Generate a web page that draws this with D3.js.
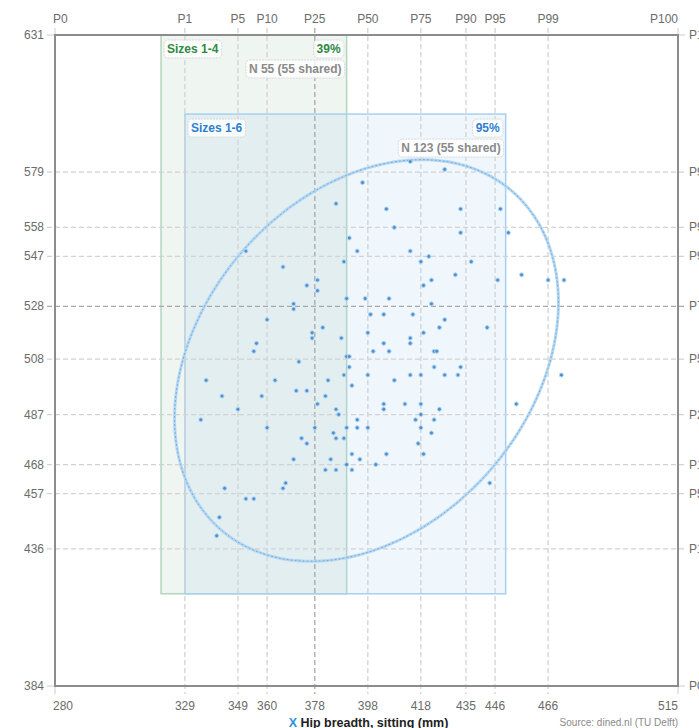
<!DOCTYPE html>
<html>
<head>
<meta charset="utf-8">
<title>Hip breadth, sitting</title>
<style>
  body { margin: 0; background: #fff; }
  svg { display: block; font-family: "Liberation Sans", Arial, sans-serif; }
</style>
</head>
<body>
<svg></svg>
<script src="https://cdn.jsdelivr.net/npm/d3@7"></script>
<script>
// percentile ticks (mm)
var xTicks = [280, 329, 349, 360, 378, 398, 418, 435, 446, 466, 515];
var yTicks = [384, 436, 457, 468, 487, 508, 528, 547, 558, 579, 631];
var pctNames = ["P0", "P1", "P5", "P10", "P25", "P50", "P75", "P90", "P95", "P99", "P100"];

// size groups
var groupNames = ["Sizes 1-4", "Sizes 1-6"];
var groupX0 = [320, 329];
var groupX1 = [390, 450];
var groupY0 = [419, 419];
var groupY1 = [631, 601];
var groupPct = ["39%", "95%"];
var groupN = [55, 123];
var groupShared = [55, 55];

// 95% ellipse
var ellCenter = [397.5, 507.5];
var ellAxes = [84.5, 62.5];
var ellAngle = 50;

// people: hip breadth (x) and second measure (y)
var px = [396, 386, 405, 408, 391, 394, 352, 366, 389, 375, 379, 379, 390, 397, 406, 427, 414, 433, 448, 433,
  451, 414, 421, 418, 437, 431, 456, 422, 419, 447, 466, 472, 370, 370, 399, 404, 360, 381, 377, 377,
  398, 388, 356, 404, 355, 400, 406, 390, 391, 372, 391, 389, 398, 337, 363, 383, 408, 392, 371, 375,
  343, 358, 382, 379, 404, 404, 386, 387, 349, 335, 394, 360, 378, 390, 394, 398, 385, 373, 375, 386,
  389, 392, 405, 370, 384, 395, 390, 401, 382, 386, 392, 422, 415, 427, 425, 443, 419, 414, 414, 423,
  424, 423, 433, 414, 418, 427, 432, 471, 412, 418, 425, 454, 418, 416, 423, 418, 422, 417, 419, 344,
  366, 367, 352, 355, 342, 341, 444];
var py = [575, 567, 565, 558, 554, 549, 549, 543, 545, 536, 538, 534, 531, 531, 531, 580, 583, 565, 565, 556,
  556, 549, 547, 545, 545, 540, 540, 538, 536, 538, 538, 538, 529, 527, 525, 525, 523, 520, 518, 516,
  518, 516, 514, 514, 511, 511, 511, 509, 509, 507, 505, 502, 502, 500, 500, 500, 500, 498, 496, 496,
  494, 494, 494, 491, 491, 489, 489, 487, 489, 485, 485, 482, 482, 482, 482, 482, 480, 478, 476, 478,
  478, 472, 472, 470, 470, 470, 468, 468, 466, 466, 466, 529, 525, 523, 520, 520, 518, 516, 514, 511,
  511, 505, 505, 502, 502, 502, 502, 502, 491, 491, 489, 491, 487, 485, 485, 482, 480, 476, 472, 459,
  459, 461, 455, 455, 448, 441, 461];

var width = 699, height = 728;
var pLeft = 55, pRight = 678, pTop = 35, pBottom = 686;

var svg = d3.select("svg")
    .attr("width", width)
    .attr("height", height);

var x = d3.scaleLinear().domain([280, 515]).range([pLeft, pRight]);
var y = d3.scaleLinear().domain([384, 631]).range([pBottom, pTop]);

svg.append("clipPath").attr("id", "clip")
  .append("rect").attr("x", pLeft).attr("y", pTop).attr("width", pRight - pLeft).attr("height", pBottom - pTop);

// size boxes
var boxFill = ["rgba(175,205,182,0.2)", "rgba(175,208,240,0.2)"];
var boxStroke = ["#b3d5bf", "#a7d0f0"];
var textCol = ["#2f8a45", "#2f7fcf"];
for (var i = 0; i < groupNames.length; i++) {
  svg.append("rect")
    .attr("clip-path", "url(#clip)")
    .attr("x", x(groupX0[i]))
    .attr("y", y(groupY1[i]))
    .attr("width", x(groupX1[i]) - x(groupX0[i]))
    .attr("height", y(groupY0[i]) - y(groupY1[i]))
    .style("fill", boxFill[i])
    .style("stroke", boxStroke[i])
    .style("stroke-width", 1.5);
}

// grid lines
var grid = svg.append("g");
grid.selectAll("line.vx").data(xTicks.slice(1, -1)).enter().append("line")
  .attr("x1", function(d) { return x(d); })
  .attr("x2", function(d) { return x(d); })
  .attr("y1", pTop - 7).attr("y2", pBottom + 8)
  .style("stroke", function(d) { return d == 378 ? "#a8a8a8" : "#d2d2d2"; })
  .style("stroke-width", 1.3)
  .style("stroke-dasharray", "5,3");
grid.selectAll("line.hy").data(yTicks.slice(1, -1)).enter().append("line")
  .attr("x1", pLeft - 8).attr("x2", pRight + 7)
  .attr("y1", function(d) { return y(d); })
  .attr("y2", function(d) { return y(d); })
  .style("stroke", function(d) { return d == 528 ? "#a8a8a8" : "#d2d2d2"; })
  .style("stroke-width", 1.3)
  .style("stroke-dasharray", "5,3");

// ticks at the frame corners
grid.selectAll("line.cx").data([280, 515]).enter().append("line")
  .attr("x1", function(d) { return x(d); }).attr("x2", function(d) { return x(d); })
  .attr("y1", pTop - 7).attr("y2", pBottom + 8)
  .style("stroke", "#ccc").style("stroke-width", 1);
grid.selectAll("line.cy").data([384, 631]).enter().append("line")
  .attr("x1", pLeft - 8).attr("x2", pRight + 7)
  .attr("y1", function(d) { return y(d); }).attr("y2", function(d) { return y(d); })
  .style("stroke", "#ccc").style("stroke-width", 1);

// frame
svg.append("rect")
  .attr("x", pLeft).attr("y", pTop)
  .attr("width", pRight - pLeft).attr("height", pBottom - pTop)
  .style("fill", "none")
  .style("stroke", "#8c8c8c")
  .style("stroke-width", 2);

// ellipse
var ang = ellAngle * Math.PI / 180;
var ellPts = d3.range(0, 360, 3).map(function(t) {
  var r = t * Math.PI / 180;
  var ex = ellAxes[0] * Math.cos(r), ey = ellAxes[1] * Math.sin(r);
  return [ellCenter[0] + ex * Math.cos(ang) - ey * Math.sin(ang),
          ellCenter[1] + ex * Math.sin(ang) + ey * Math.cos(ang)];
});
var ellLine = d3.line()
  .x(function(d) { return x(d[0]); })
  .y(function(d) { return y(d[1]); })
  .curve(d3.curveCardinalClosed);
svg.append("path").datum(ellPts).attr("d", ellLine)
  .style("fill", "none").style("stroke", "#b4d8f4").style("stroke-width", 3);
svg.append("path").datum(ellPts).attr("d", ellLine)
  .style("fill", "none").style("stroke", "#6a9fcc").style("stroke-width", 0.8)
  .style("stroke-dasharray", "2,2");

// points
var pts = d3.range(px.length).map(function(i) { return [px[i], py[i]]; });
svg.selectAll("circle.pt").data(pts).enter().append("circle")
  .attr("cx", function(d) { return x(d[0]); })
  .attr("cy", function(d) { return y(d[1]); })
  .attr("r", 2)
  .style("fill", "#4d8fcf")
  .style("stroke", "#b3d6f3")
  .style("stroke-width", 1);

// box labels
function label(tx, ty, txt, col, anchor) {
  var g = svg.append("g");
  var bg = g.append("rect");
  var t = g.append("text")
    .attr("x", tx).attr("y", ty)
    .attr("text-anchor", anchor)
    .style("font-size", "12px")
    .style("font-weight", "bold")
    .style("fill", col)
    .text(txt);
  var b = t.node().getBBox();
  bg.attr("x", b.x - 3).attr("y", b.y - 2)
    .attr("width", b.width + 6).attr("height", b.height + 4)
    .attr("rx", 4)
    .style("fill", "rgba(255,255,255,0.8)")
    .style("stroke", "#d8d8d8")
    .style("stroke-dasharray", "2,1");
}
for (var i = 0; i < groupNames.length; i++) {
  var bx0 = x(groupX0[i]), bx1 = x(groupX1[i]), by = y(groupY1[i]);
  label(bx0 + 6, by + 18, groupNames[i], textCol[i], "start");
  label(bx1 - 6, by + 18, groupPct[i], textCol[i], "end");
  label(bx1 - 5, by + 38, "N " + groupN[i] + " (" + groupShared[i] + " shared)", "#8a8a8a", "end");
}

// axis labels
var lab = svg.append("g").style("font-size", "12px").style("fill", "#6b6b6b");
function xAnchor(i) { return i == 0 ? "start" : (i == xTicks.length - 1 ? "end" : "middle"); }
lab.selectAll("text.top").data(xTicks).enter().append("text")
  .attr("x", function(d, i) { return x(d) + (i == 0 ? -2 : 0); })
  .attr("y", 23)
  .attr("text-anchor", function(d, i) { return xAnchor(i); })
  .text(function(d, i) { return pctNames[i]; });
lab.selectAll("text.bot").data(xTicks).enter().append("text")
  .attr("x", function(d, i) { return x(d) + (i == 0 ? -2 : 0); })
  .attr("y", 710)
  .attr("text-anchor", function(d, i) { return xAnchor(i); })
  .text(function(d) { return d; });
lab.selectAll("text.lft").data(yTicks).enter().append("text")
  .attr("x", 44)
  .attr("y", function(d) { return y(d) + 4; })
  .attr("text-anchor", "end")
  .text(function(d) { return d; });
lab.selectAll("text.rgt").data(yTicks).enter().append("text")
  .attr("x", 689)
  .attr("y", function(d) { return y(d) + 4; })
  .text(function(d, i) { return pctNames[i]; });

// axis title and source
var title = svg.append("text")
  .attr("x", (pLeft + pRight) / 2 + 2)
  .attr("y", 727)
  .attr("text-anchor", "middle")
  .style("font-size", "12.5px")
  .style("font-weight", "bold")
  .style("fill", "#222");
title.append("tspan").style("fill", "#2f8fe0").text("X ");
title.append("tspan").text("Hip breadth, sitting (mm)");

svg.append("text")
  .attr("x", pRight)
  .attr("y", 726)
  .attr("text-anchor", "end")
  .style("font-size", "10px")
  .style("fill", "#8a8a8a")
  .text("Source: dined.nl (TU Delft)");
</script>
</body>
</html>
